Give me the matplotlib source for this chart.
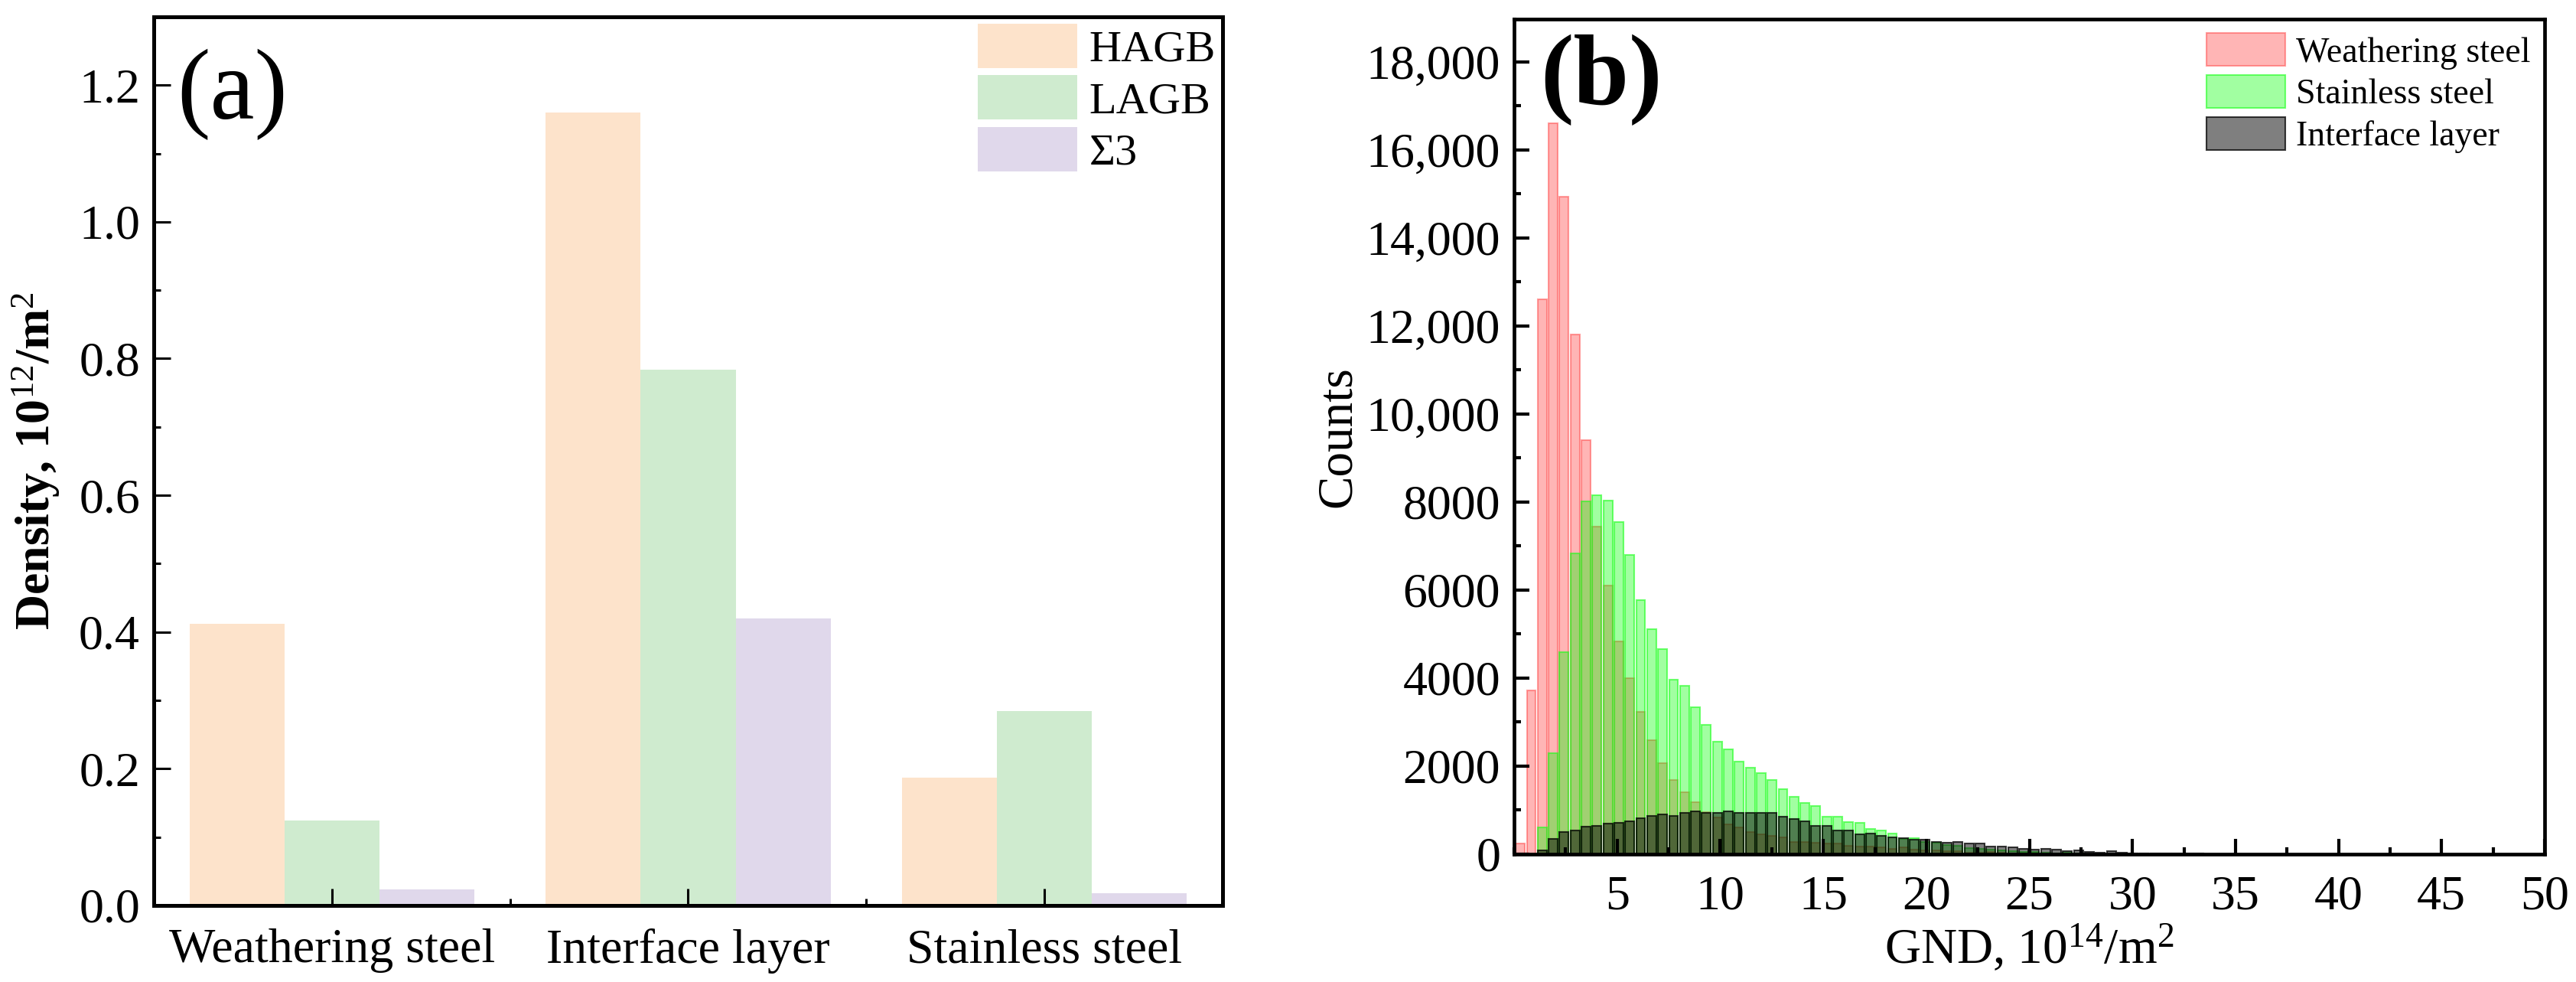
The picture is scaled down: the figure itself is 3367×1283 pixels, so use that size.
import numpy as np
import matplotlib
matplotlib.use("Agg")
import matplotlib.pyplot as plt
from matplotlib.ticker import MultipleLocator, FixedLocator, FuncFormatter

plt.rcParams['font.family'] = ['Liberation Serif', 'DejaVu Serif']
plt.rcParams['mathtext.fontset'] = 'custom'
plt.rcParams['mathtext.rm'] = 'Liberation Serif'
plt.rcParams['mathtext.it'] = 'Liberation Serif:italic'
plt.rcParams['mathtext.bf'] = 'Liberation Serif:bold'

# ---------------- Panel (a) data ----------------
categories = ["Weathering steel", "Interface layer", "Stainless steel"]
boundary_types = ["HAGB", "LAGB", "\u03a33"]
hagb = [0.412, 1.160, 0.187]
lagb = [0.124, 0.784, 0.284]
sigma3 = [0.023, 0.420, 0.018]
colors_a = ["#FDE3CB", "#CFEBCF", "#E0D8EB"]

# ---------------- Panel (b) data ----------------
bin_width = 0.531
first_center = 0.30
weathering = [250, 3720, 12600, 16600, 14930, 11800, 9410, 7450, 6100, 4830,
              4000, 3230, 2590, 2060, 1680, 1400, 1175, 960, 840, 670,
              600, 500, 450, 415, 375, 285, 275, 255, 240, 250,
              192, 174, 174, 156, 120, 150, 102, 84, 84, 66,
              66, 30, 30, 48, 30, 18, 12, 10, 6, 5,
              4, 3, 2, 2, 1, 1, 1, 0, 0, 0, 0, 0, 0]
stainless = [0, 0, 610, 2300, 4590, 6840, 8020, 8160, 8040, 7540,
             6800, 5770, 5120, 4665, 3965, 3830, 3340, 2940, 2550, 2390,
             2095, 1960, 1840, 1680, 1470, 1310, 1170, 1100, 855, 845,
             732, 714, 576, 540, 468, 342, 360, 270, 264, 216,
             192, 144, 126, 102, 84, 66, 48, 48, 30, 12,
             30, 12, 6, 5, 4, 3, 2, 2, 1, 1, 0, 0, 0]
interface = [0, 0, 80, 350, 500, 535, 620, 640, 690, 710,
             740, 815, 865, 905, 865, 940, 970, 940, 945, 965,
             945, 945, 945, 945, 845, 795, 755, 650, 640, 545,
             534, 444, 462, 408, 390, 360, 324, 324, 270, 252,
             270, 234, 234, 180, 180, 162, 120, 102, 126, 102,
             66, 84, 48, 30, 66, 30, 12, 12, 12, 12, 12, 12, 12]
series_b = ["Weathering steel", "Stainless steel", "Interface layer"]

fig = plt.figure(figsize=(33.67, 12.83), dpi=100)

# ---------------- Panel (a) ----------------
axa = fig.add_axes([0.0597, 0.0780, 0.4149, 0.9049])
x = np.arange(len(categories))
w = 0.8 / 3
for i, (vals, lab, c) in enumerate(zip([hagb, lagb, sigma3], boundary_types, colors_a)):
    axa.bar(x + (i - 1) * w, vals, width=w, color=c, label=lab, linewidth=0)
axa.set_xlim(-0.5, 2.5)
axa.set_ylim(0, 1.3)
axa.set_xticks(x)
axa.set_xticklabels(categories)
axa.xaxis.set_minor_locator(FixedLocator([0.5, 1.5]))
axa.yaxis.set_major_locator(MultipleLocator(0.2))
axa.yaxis.set_minor_locator(MultipleLocator(0.1))
axa.yaxis.set_major_formatter(FuncFormatter(lambda v, p: f"{v:.1f}"))
axa.tick_params(which='both', direction='in', top=False, right=False, width=2.2)
axa.tick_params(which='major', length=15.5)
axa.tick_params(which='minor', length=6.5)
axa.tick_params(axis='x', which='major', labelsize=46, pad=22)
axa.tick_params(axis='y', which='major', labelsize=46, pad=13)
for s in axa.spines.values():
    s.set_linewidth(3.6)
axa.set_ylabel("Density, 10$^{12}$/m$^{2}$", fontsize=46, fontweight='bold', labelpad=16)
axa.text(0.022, 0.885, "(a)", transform=axa.transAxes, fontsize=94, ha='left', va='baseline')
axa.legend(loc='upper right', fontsize=42, frameon=False, handlelength=2.23,
           handleheight=1.15, labelspacing=0.12, handletextpad=0.27,
           borderaxespad=0.05, borderpad=0.1)

# ---------------- Panel (b) ----------------
axb = fig.add_axes([0.5878, 0.1302, 0.4000, 0.8503])
n = len(weathering)
centers = first_center + np.arange(n) * bin_width
bw = bin_width * 0.83
axb.bar(centers, weathering, width=bw, color=(1, 0, 0, 0.29), edgecolor=(1, 0.2, 0.2, 0.45),
        linewidth=1.5, label=series_b[0])
axb.bar(centers, stainless, width=bw, color=(0, 1, 0, 0.37), edgecolor=(0.1, 1, 0.1, 0.6),
        linewidth=1.5, label=series_b[1])
axb.bar(centers, interface, width=bw, color=(0, 0, 0, 0.5), edgecolor=(0, 0, 0, 0.75),
        linewidth=1.5, label=series_b[2])
axb.set_xlim(0, 50)
axb.set_ylim(0, 18970)
axb.set_xticks(np.arange(5, 51, 5))
axb.xaxis.set_minor_locator(MultipleLocator(2.5))
axb.yaxis.set_major_locator(MultipleLocator(2000))
axb.yaxis.set_minor_locator(MultipleLocator(1000))
axb.yaxis.set_major_formatter(FuncFormatter(lambda v, p: f"{v:,.0f}" if v >= 10000 else f"{v:.0f}"))
axb.tick_params(which='both', direction='in', top=False, right=False, width=3)
axb.tick_params(which='major', length=14.5)
axb.tick_params(which='minor', length=6.5)
axb.tick_params(axis='x', which='major', labelsize=46, pad=20)
axb.tick_params(axis='y', which='major', labelsize=46, pad=13)
for s in axb.spines.values():
    s.set_linewidth(3.4)
axb.set_xlabel("GND, 10$^{14}$/m$^{2}$", fontsize=47, labelpad=3)
axb.set_ylabel("Counts", fontsize=47, labelpad=5)
axb.text(0.025, 0.898, "(b)", transform=axb.transAxes, fontsize=94, fontweight='bold',
         ha='left', va='baseline')
axb.legend(loc='upper right', fontsize=33, frameon=False, handlelength=2.25,
           handleheight=1.07, labelspacing=0.17, handletextpad=0.3,
           borderaxespad=0.3, borderpad=0.1)

fig.savefig("out.png", dpi=100)
